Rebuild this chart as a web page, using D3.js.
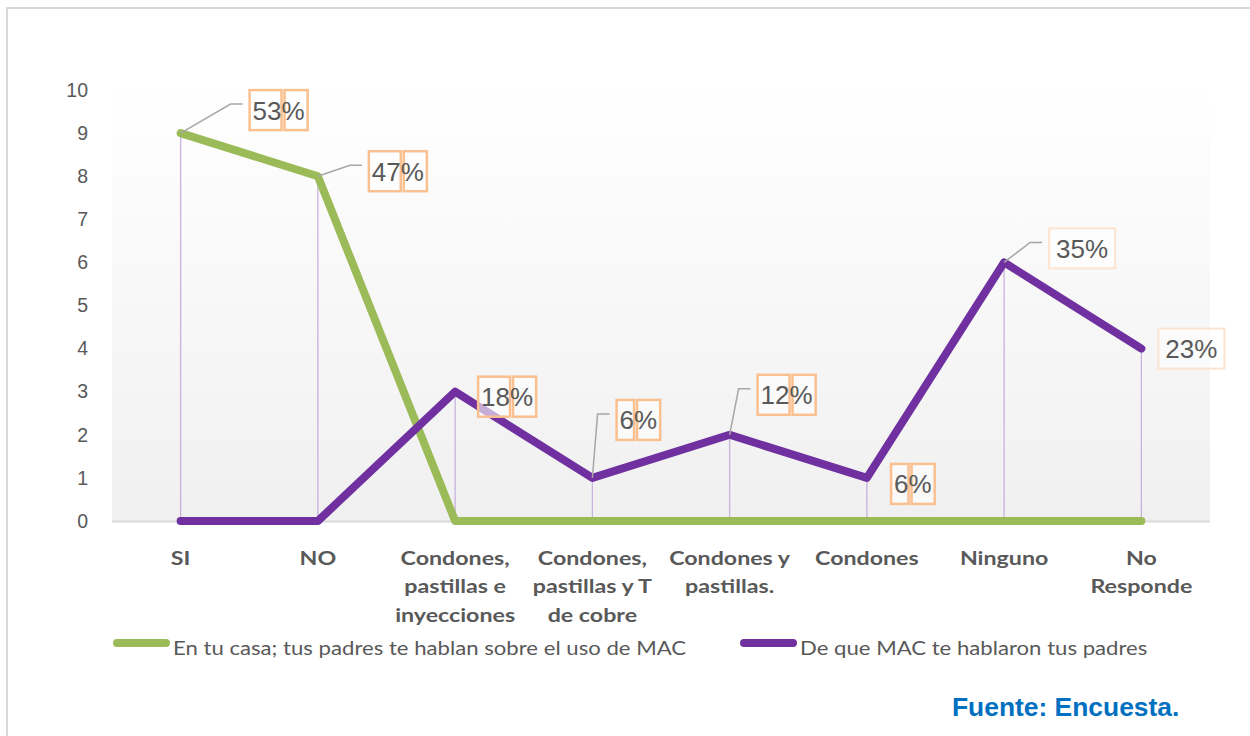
<!DOCTYPE html>
<html>
<head>
<meta charset="utf-8">
<script src="https://cdn.jsdelivr.net/npm/d3@7"></script>
<style>
  html, body { margin: 0; padding: 0; background: #ffffff; }
  svg { display: block; }
</style>
</head>
<body>
<script>
// ---------------- DATA ----------------
const categories = [
  ["SI"],
  ["NO"],
  ["Condones,", "pastillas e", "inyecciones"],
  ["Condones,", "pastillas y T", "de cobre"],
  ["Condones y", "pastillas."],
  ["Condones"],
  ["Ninguno"],
  ["No", "Responde"]
];
const seriesNames = [
  "En tu casa; tus padres te hablan sobre el uso de MAC",
  "De que MAC te hablaron tus padres"
];
const casaValues = [9, 8, 0, 0, 0, 0, 0, 0];
const macValues  = [0, 0, 3, 1, 2, 1, 6, 4];
const casaLabels = ["53%", "47%", null, null, null, null, null, null];
const macLabels  = [null, null, "18%", "6%", "12%", "6%", "35%", "23%"];
const yTicks = [0, 1, 2, 3, 4, 5, 6, 7, 8, 9, 10];
const sourceNote = "Fuente: Encuesta.";

// ---------------- STYLE / LAYOUT ----------------
const W = 1250, H = 736;
const plot = { left: 112, right: 1210, top: 85, bottom: 521 };
const colors = { casa: "#9bbb59", mac: "#7030a0", drop: "#c6b2dc", text: "#595959",
                 axis: "#d9d9d9", leader: "#a6a6a6", boxStrong: "#fac090", boxPale: "#fde4d0",
                 source: "#0070c0" };
// label offsets (box centre relative to the point), leader flag, pale-box flag
const casaLabelStyle = [
  { dx: 98, dy: -23, leader: true, pale: false },
  { dx: 80, dy: -5, leader: true, pale: false }
];
const macLabelStyle = [
  null, null,
  { dx: 52, dy: 5, leader: false, pale: false },
  { dx: 46, dy: -58, leader: true, pale: false },
  { dx: 57, dy: -40, leader: true, pale: false },
  { dx: 46, dy: 6, leader: false, pale: false },
  { dx: 78, dy: -14, leader: true, pale: true },
  { dx: 50, dy: 0, leader: false, pale: true }
];

const svg = d3.select("body").append("svg").attr("width", W).attr("height", H);

function stretchX(sel, cx, sx) {
  sel.attr("transform", `translate(${cx},0) scale(${sx},1) translate(${-cx},0)`);
}

// outer frame
svg.append("rect").attr("x", 7).attr("y", 8).attr("width", W + 20).attr("height", H + 20)
  .attr("fill", "#ffffff").attr("stroke", colors.axis).attr("stroke-width", 2);

// plot background gradient
const defs = svg.append("defs");
const grad = defs.append("linearGradient").attr("id", "bg").attr("x1", 0).attr("y1", 0).attr("x2", 0).attr("y2", 1);
grad.append("stop").attr("offset", "0%").attr("stop-color", "#ffffff");
grad.append("stop").attr("offset", "100%").attr("stop-color", "#f0f0f0");
svg.append("rect").attr("x", plot.left).attr("y", plot.top)
  .attr("width", plot.right - plot.left).attr("height", plot.bottom - plot.top)
  .attr("fill", "url(#bg)");

// scales
const x = d3.scalePoint().domain(d3.range(categories.length))
  .range([plot.left, plot.right]).padding(0.5);
const y = d3.scaleLinear().domain([0, 10]).range([521, 90]);

// y axis labels
const yAxis = d3.axisLeft(y).tickValues(yTicks).tickSize(0).tickPadding(0).tickFormat(d3.format("d"));
const gy = svg.append("g").attr("transform", "translate(88,0)").call(yAxis);
gy.select(".domain").remove();
gy.selectAll("text").attr("font-family", "Liberation Sans, Arial, sans-serif")
  .attr("font-size", 19.5).attr("fill", colors.text);

// drop lines
svg.append("g").selectAll("line").data(categories.map((c, i) => i)).join("line")
  .attr("x1", i => x(i)).attr("x2", i => x(i))
  .attr("y1", i => y(Math.max(casaValues[i], macValues[i])))
  .attr("y2", y(0))
  .attr("stroke", colors.drop).attr("stroke-width", 1.3);

// baseline
svg.append("line").attr("x1", plot.left).attr("x2", plot.right)
  .attr("y1", y(0) + 0.5).attr("y2", y(0) + 0.5)
  .attr("stroke", colors.axis).attr("stroke-width", 2);

// x category labels
const gx = svg.append("g");
categories.forEach((lines, i) => {
  const t = gx.append("text").attr("x", x(i)).attr("y", 565)
    .attr("text-anchor", "middle").attr("font-family", "Lato, Carlito, sans-serif")
    .attr("font-weight", 700).attr("font-size", 19.5).attr("fill", colors.text);
  lines.forEach((l, k) => t.append("tspan").attr("x", x(i)).attr("dy", k === 0 ? 0 : 28.5).text(l));
  stretchX(t, x(i), 1.19);
});

// lines
const line = d3.line().x((d, i) => x(i)).y(d => y(d));
svg.append("path").datum(casaValues).attr("d", line).attr("fill", "none")
  .attr("stroke", colors.casa).attr("stroke-width", 8)
  .attr("stroke-linecap", "round").attr("stroke-linejoin", "round");
svg.append("path").datum(macValues).attr("d", line).attr("fill", "none")
  .attr("stroke", colors.mac).attr("stroke-width", 8)
  .attr("stroke-linecap", "round").attr("stroke-linejoin", "round");

// data labels
function drawLabels(values, labels, styles) {
  const g = svg.append("g");
  labels.forEach((lab, i) => {
    if (!lab) return;
    const s = styles[i];
    const px = x(i), py = y(values[i]);
    const cx = px + s.dx, cy = py + s.dy;
    const boxH = 40;
    const lg = g.append("g");
    const num = lab.replace("%", "");
    const fs = 26;
    const tx = lg.append("text").attr("y", cy + 9.5).attr("font-family", "Liberation Sans, Arial, sans-serif")
      .attr("font-size", fs).attr("fill", colors.text);
    const tNum = tx.append("tspan").text(num);
    const tPct = tx.append("tspan").text("%");
    const wNum = tNum.node().getComputedTextLength();
    const wPct = tPct.node().getComputedTextLength();
    const total = wNum + wPct;
    const pad = s.pale ? 7 : 3;
    const boxW = total + 2 * pad;
    const left = cx - boxW / 2;
    tx.attr("x", left + pad);
    const top = cy - boxH / 2;
    if (s.pale) {
      lg.insert("rect", "text").attr("x", left).attr("y", top).attr("width", boxW).attr("height", boxH)
        .attr("fill", "#ffffff").attr("fill-opacity", 0.6)
        .attr("stroke", colors.boxPale).attr("stroke-width", 2);
    } else {
      const split = left + pad + wNum;
      lg.insert("rect", "text").attr("x", left).attr("y", top).attr("width", split - left).attr("height", boxH)
        .attr("fill", "#ffffff").attr("fill-opacity", 0.6)
        .attr("stroke", colors.boxStrong).attr("stroke-width", 2.5);
      lg.insert("rect", "text").attr("x", split + 3).attr("y", top).attr("width", left + boxW - split - 3).attr("height", boxH)
        .attr("fill", "#ffffff").attr("fill-opacity", 0.6)
        .attr("stroke", colors.boxStrong).attr("stroke-width", 2.5);
    }
    if (s.leader) {
      const endX = left - 7;
      const ly = s.dy < -30 ? top + 14 : cy - 6;
      const kneeX = endX - 12;
      g.append("polyline")
        .attr("points", [[px, py], [kneeX, ly], [endX, ly]].map(p => p.join(",")).join(" "))
        .attr("fill", "none").attr("stroke", colors.leader).attr("stroke-width", 1.5);
    }
  });
}
drawLabels(casaValues, casaLabels, casaLabelStyle);
drawLabels(macValues, macLabels, macLabelStyle);

// legend
const legend = [
  { name: seriesNames[0], color: colors.casa, x: 113 },
  { name: seriesNames[1], color: colors.mac, x: 740 }
];
const lg = svg.append("g");
legend.forEach(l => {
  lg.append("line").attr("x1", l.x + 4).attr("x2", l.x + 53).attr("y1", 643).attr("y2", 643)
    .attr("stroke", l.color).attr("stroke-width", 8).attr("stroke-linecap", "round");
  const t = lg.append("text").attr("x", l.x + 60).attr("y", 655)
    .attr("font-family", "Lato, Carlito, sans-serif").attr("font-size", 19)
    .attr("fill", colors.text).text(l.name);
  stretchX(t, l.x + 60, 1.166);
});

// source
svg.append("text").attr("x", 952).attr("y", 716)
  .attr("font-family", "Liberation Sans, Arial, sans-serif").attr("font-weight", 700)
  .attr("font-size", 26.4).attr("fill", colors.source).text(sourceNote);
</script>
</body>
</html>
